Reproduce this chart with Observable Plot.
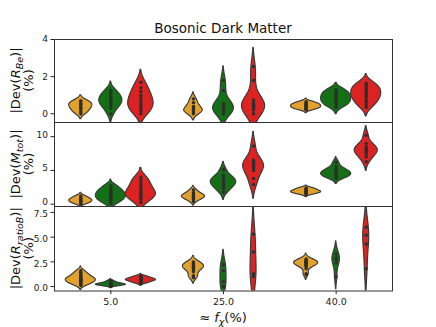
<!DOCTYPE html>
<html><head><meta charset="utf-8">
<script src="https://cdn.jsdelivr.net/npm/d3@7"></script>
<script src="https://cdn.jsdelivr.net/npm/@observablehq/plot@0.6"></script>
<style>
body{margin:0;background:#fff;}
#chart{position:relative;width:436px;height:327px;overflow:hidden;font-family:"DejaVu Sans",sans-serif;}
#chart > svg{position:absolute;left:0;}
</style>
</head><body><div id="chart"></div>
<script>
// ---- categories / series ----
const categories = ["5.0", "25.0", "40.0"];
const series = ["A", "B", "C"];
const seriesColors = ["#E2A12A", "#147014", "#DD2222"];
const ticksRBe = [0, 2, 4];
const ticksMtot = [0, 5, 10];
const ticksRatio = [0, 2.5, 5, 7.5];

// ---- |Dev(R_Be)| (%) ----
const rBe_5_A = [0.0, 0.1, 0.2, 0.3, 0.35, 0.45, 0.5, 0.55, 0.65, 0.7];
const rBe_5_B = [0.0, 0.3, 0.45, 0.55, 0.65, 0.75, 0.85, 0.95, 1.1, 1.25];
const rBe_5_C = [0.0, 0.15, 0.3, 0.45, 0.55, 0.7, 0.85, 1.0, 1.2, 1.4, 1.7];
const rBe_25_A = [0.0, 0.1, 0.15, 0.2, 0.3, 0.4, 0.6, 0.8];
const rBe_25_B = [0.0, 0.15, 0.25, 0.3, 0.35, 0.45, 0.55, 1.25, 1.8];
const rBe_25_C = [0.0, 0.2, 0.3, 0.4, 0.45, 0.5, 0.6, 0.75, 1.8, 2.55];
const rBe_40_A = [0.2, 0.25, 0.3, 0.3, 0.35, 0.4, 0.4, 0.45, 0.5, 0.5, 0.55, 0.6, 0.65];
const rBe_40_B = [0.35, 0.45, 0.55, 0.6, 0.7, 0.75, 0.85, 0.9, 1.0, 1.05, 1.15, 1.25, 1.3];
const rBe_40_C = [0.35, 0.5, 0.65, 0.75, 0.9, 0.95, 1.05, 1.15, 1.25, 1.35, 1.45, 1.55, 1.65];

// ---- |Dev(M_tot)| (%) ----
const mTot_5_A = [0.0, 0.15, 0.3, 0.4, 0.5, 0.6, 0.7, 0.85, 1.0, 1.2];
const mTot_5_B = [0.1, 0.35, 0.6, 0.8, 1.0, 1.15, 1.3, 1.5, 1.7, 1.9, 2.1, 2.4, 2.7];
const mTot_5_C = [0.25, 0.7, 1.0, 1.2, 1.4, 1.6, 1.8, 2.1, 2.4, 2.8, 3.2, 3.6, 4.0];
const mTot_25_A = [0.4, 0.7, 0.9, 1.0, 1.1, 1.2, 1.35, 1.5, 1.7, 2.1];
const mTot_25_B = [1.8, 2.3, 2.6, 2.9, 3.1, 3.3, 3.5, 3.7, 3.9, 4.3, 5.1];
const mTot_25_C = [2.9, 3.8, 5.0, 5.3, 5.6, 5.9, 6.2, 6.5, 8.6];
const mTot_40_A = [1.4, 1.5, 1.6, 1.7, 1.75, 1.8, 1.85, 1.9, 2.0, 2.1, 2.2, 2.3, 2.4];
const mTot_40_B = [3.8, 4.0, 4.1, 4.2, 4.4, 4.5, 4.6, 4.7, 4.9, 5.0, 5.2, 5.6, 6.2];
const mTot_40_C = [6.3, 7.0, 7.4, 7.7, 7.9, 8.1, 8.3, 8.5, 9.0, 10.2];

// ---- |Dev(R_ratioB)| (%) ----
const rRatio_5_A = [0.1, 0.2, 0.3, 0.35, 0.4, 0.5, 0.55, 0.6, 0.65, 0.7, 0.75, 0.8, 0.85, 0.9, 1.0, 1.1, 1.2, 1.3, 1.45, 1.6];
const rRatio_5_B = [0.0, 0.05, 0.08, 0.1, 0.12, 0.15, 0.15, 0.18, 0.2, 0.2, 0.22, 0.25, 0.25, 0.28, 0.3, 0.35, 0.4, 0.45, 0.5, 0.6];
const rRatio_5_C = [0.3, 0.35, 0.4, 0.45, 0.5, 0.55, 0.6, 0.6, 0.65, 0.65, 0.7, 0.7, 0.75, 0.75, 0.8, 0.85, 0.9, 0.95, 1.0, 1.05];
const rRatio_25_A = [0.9, 1.0, 1.1, 1.5, 1.7, 1.8, 1.9, 2.0, 2.0, 2.1, 2.2, 2.3, 2.4, 2.5];
const rRatio_25_B = [0.0, 0.5, 1.6, 2.2];
const rRatio_25_C = [1.0, 1.3, 3.5, 5.3];
const rRatio_40_A = [1.2, 1.3, 1.8, 2.0, 2.1, 2.2, 2.25, 2.3, 2.35, 2.4, 2.45, 2.5, 2.55, 2.6, 2.7, 2.8];
const rRatio_40_B = [1.0, 2.4, 2.7, 2.9, 3.3];
const rRatio_40_C = [1.8, 4.3, 5.2, 6.0];

const panels = [
  {groups: [[rBe_5_A, rBe_5_B, rBe_5_C], [rBe_25_A, rBe_25_B, rBe_25_C], [rBe_40_A, rBe_40_B, rBe_40_C]],
   ticks: ticksRBe, domain: [-0.47, 4.0], fmt: d3.format("d"), dy: 0},
  {groups: [[mTot_5_A, mTot_5_B, mTot_5_C], [mTot_25_A, mTot_25_B, mTot_25_C], [mTot_40_A, mTot_40_B, mTot_40_C]],
   ticks: ticksMtot, domain: [-0.35, 12.1], fmt: d3.format("d"), dy: -2},
  {groups: [[rRatio_5_A, rRatio_5_B, rRatio_5_C], [rRatio_25_A, rRatio_25_B, rRatio_25_C], [rRatio_40_A, rRatio_40_B, rRatio_40_C]],
   ticks: ticksRatio, domain: [-0.45, 8.1], fmt: d3.format(".1f"), dy: 2}
];

// layout
const W = 436, ML = 54, MR = 44, PAD = 6;
const tops = [39, 122, 206], bottoms = [122, 206, 290.5];
const violinWidth = 0.8 / series.length;

function kde(vals) {
  const n = vals.length;
  const bw = d3.deviation(vals) * Math.pow(n, -0.2);
  const lo = d3.min(vals) - 2 * bw, hi = d3.max(vals) + 2 * bw;
  const N = 120, out = [];
  for (let i = 0; i <= N; i++) {
    const y = lo + (hi - lo) * i / N;
    let s = 0;
    for (const v of vals) { const z = (y - v) / bw; s += Math.exp(-0.5 * z * z); }
    out.push({y, d: s / (n * bw * Math.sqrt(2 * Math.PI))});
  }
  return out;
}

const root = document.getElementById("chart");

panels.forEach((p, pi) => {
  const maxN = d3.max(p.groups.flat(), g => g.length);
  const shapes = [], dots = [];
  p.groups.forEach((grp, ci) => {
    grp.forEach((vals, si) => {
      const center = ci + (si - (series.length - 1) / 2) * violinWidth;
      const dens = kde(vals);
      const md = d3.max(dens, r => r.d);
      const scale = (vals.length / maxN) * violinWidth / 2;
      for (const r of dens) {
        const hw = r.d / md * scale;
        shapes.push({key: ci + "-" + si, s: series[si], y: r.y, x1: center - hw, x2: center + hw});
      }
      for (const v of vals) dots.push({x: center, y: v});
    });
  });
  const last = pi === panels.length - 1;
  const h = bottoms[pi] - tops[pi];
  const plot = Plot.plot({
    width: W,
    height: h + PAD + (last ? 40 : PAD),
    marginLeft: ML, marginRight: MR, marginTop: PAD, marginBottom: last ? 40 : PAD,
    style: {background: "none", fontFamily: "DejaVu Sans", fontSize: "9px", color: "#222", overflow: "visible"},
    x: {domain: [-0.5, 2.5], axis: null},
    y: {domain: p.domain, axis: null},
    color: {domain: series, range: seriesColors},
    marks: [
      Plot.areaX(shapes, {y: "y", x1: "x1", x2: "x2", z: "key", fill: "s", stroke: "#3a3a3a", strokeWidth: 1.2, clip: true}),
      Plot.dot(dots, {x: "x", y: "y", r: 1.7, fill: "#2e2e2e", stroke: null, clip: true}),
      Plot.axisY({ticks: p.ticks, tickSize: 3.5, text: null, label: null}),
      Plot.axisY({ticks: p.ticks, tickFormat: p.fmt, tickSize: 0, tickPadding: 6.5, dy: p.dy, label: null, fontSize: 9}),
      last ? Plot.axisX({ticks: [0, 1, 2], tickFormat: i => categories[i], tickSize: 3.5, tickPadding: 3.5, label: null, fontSize: 9.5}) : null,
      Plot.frame({stroke: "#333", strokeWidth: 1})
    ]
  });
  plot.style.top = (tops[pi] - PAD) + "px";
  root.appendChild(plot);
});

// text overlay: title, axis labels
const ov = d3.select(root).append("svg")
  .attr("width", W).attr("height", 327)
  .style("position", "absolute").style("top", "0px").style("left", "0px")
  .style("pointer-events", "none")
  .attr("font-family", "DejaVu Sans").attr("fill", "#111");

ov.append("text").attr("x", (ML + W - MR) / 2).attr("y", 33)
  .attr("text-anchor", "middle").attr("font-size", 13.5).text("Bosonic Dark Matter");

const yLabels = [["R", "Be"], ["M", "tot"], ["R", "ratioB"]];
yLabels.forEach(([main, sub], i) => {
  const cy = (tops[i] + bottoms[i]) / 2;
  const t = ov.append("text").attr("text-anchor", "middle").attr("font-size", 13)
    .attr("transform", `translate(20,${cy}) rotate(-90)`);
  t.append("tspan").text("|Dev(");
  t.append("tspan").attr("font-style", "italic").text(main);
  t.append("tspan").attr("font-style", "italic").attr("font-size", 9.5).attr("dy", 2.5).text(sub);
  t.append("tspan").attr("dy", -2.5).text(")|");
  ov.append("text").attr("text-anchor", "middle").attr("font-size", 13)
    .attr("transform", `translate(33,${cy}) rotate(-90)`).text("(%)");
});

const xl = ov.append("text").attr("x", (ML + W - MR) / 2).attr("y", 322)
  .attr("text-anchor", "middle").attr("font-size", 13);
xl.append("tspan").text("\u2248 ");
xl.append("tspan").attr("font-style", "italic").text("f");
xl.append("tspan").attr("font-style", "italic").attr("font-size", 9.5).attr("dy", 2.5).text("\u03C7");
xl.append("tspan").attr("dy", -2.5).text("(%)");
</script>
</body></html>
